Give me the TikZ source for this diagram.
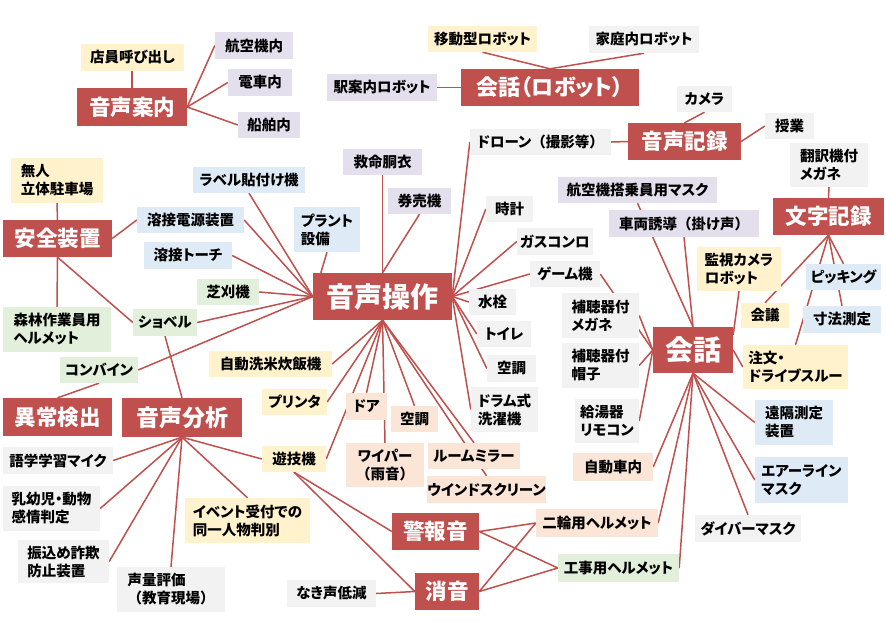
\documentclass[tikz,border=0pt]{standalone}
\usepackage{fontspec}
\setmainfont{Noto Sans CJK JP}[RawFeature=+palt]
\newfontfamily\jpfull{Noto Sans CJK JP}
\newcommand\fullp[1]{{\jpfull #1}}
\usetikzlibrary{backgrounds,calc}
\definecolor{hdr}{HTML}{C0504D}
\definecolor{yel}{HTML}{FFF2CC}
\definecolor{lav}{HTML}{E4DFEC}
\definecolor{gry}{HTML}{F2F2F2}
\definecolor{blu}{HTML}{DEEBF7}
\definecolor{grn}{HTML}{E2EFDA}
\definecolor{pch}{HTML}{FBE5D6}
\definecolor{lnc}{HTML}{C0504D}
\begin{document}
\begin{tikzpicture}[x=1pt,y=-1pt,
  sz/.style 2 args={minimum width=#1pt,minimum height=#2pt},
  lab/.style={inner sep=0pt, align=left, font=\bfseries\fontsize{14.5}{18}\selectfont},
  hd/.style={fill=hdr, text=white, inner sep=0pt, font=\bfseries\fontsize{21.5}{24}\selectfont},
  big/.style={hd, font=\bfseries\fontsize{28}{30}\selectfont},
  ln/.style={draw=lnc, line width=1.5pt}]
\useasboundingbox (0,0) rectangle (886,621);
% headers
\node[hd,sz={110}{38}] (an) at (132,107) {音声案内};
\node[hd,sz={178}{37},font=\bfseries\fontsize{22}{24}\selectfont] (kr) at (550,87.5) {会話（ロボット）};
\node[hd,sz={113}{37}] (rec) at (684.5,141.5) {音声記録};
\node[hd,sz={111}{37}] (moji) at (828.5,216.5) {文字記録};
\node[big,sz={139}{47}] (ope) at (382.5,296.5) {音声操作};
\node[big,sz={80}{46}] (kaiwa) at (693,350) {会話};
\node[hd,sz={109}{37}] (anz) at (57.5,238.5) {安全装置};
\node[hd,sz={109}{38}] (ijo) at (57.5,417) {異常検出};
\node[hd,sz={120}{39},font=\bfseries\fontsize{23}{25}\selectfont] (bun) at (182,417.5) {音声分析};
\node[hd,sz={87}{37}] (kei) at (435.5,531.5) {警報音};
\node[hd,sz={64}{37}] (sho) at (447,591.5) {消音};
% yellow
\node[lab,fill=yel,sz={103}{27}] (tenin) at (132.5,57.5) {店員呼び出し};
\node[lab,fill=yel,sz={92}{45}] (mujin) at (57,180.5) {無人\\立体駐車場};
\node[lab,fill=yel,sz={109}{26}] (idou) at (482.5,39) {移動型ロボット};
\node[lab,fill=yel,sz={84}{44}] (kanshi) at (739,269) {監視カメラ\\ロボット};
\node[lab,fill=yel,sz={48}{25}] (kaigi) at (765,315.5) {会議};
\node[lab,fill=yel,sz={105}{44}] (chumon) at (795.5,367) {注文・\\ドライブスルー};
\node[lab,fill=yel,sz={123}{26}] (senmai) at (270.5,364) {自動洗米炊飯機};
\node[lab,fill=yel,sz={65}{26}] (printer) at (294.5,402) {プリンタ};
\node[lab,fill=yel,sz={64}{26}] (yugi) at (294,459) {遊技機};
\node[lab,fill=yel,sz={125}{45}] (event) at (247.5,520.5) {イベント受付での\\同一人物判別};
% lavender
\node[lab,fill=lav,sz={78}{27}] (kokuki) at (254,45.5) {航空機内};
\node[lab,fill=lav,sz={64}{27}] (densha) at (260,82.5) {電車内};
\node[lab,fill=lav,sz={62}{26}] (senpaku) at (269,125) {船舶内};
\node[lab,fill=lav,sz={110}{27}] (eki) at (382,87.5) {駅案内ロボット};
\node[lab,fill=lav,sz={79}{26}] (kyumei) at (382.5,162) {救命胴衣};
\node[lab,fill=lav,sz={63}{26}] (kenbai) at (419.5,201) {券売機};
\node[lab,fill=lav,sz={159}{26}] (mask) at (637.5,190) {航空機搭乗員用マスク};
\node[lab,fill=lav,sz={150}{27}] (sharyo) at (684,223.5) {車両誘導\fullp{（}掛け声\fullp{）}};
% grey
\node[lab,fill=gry,sz={110}{27}] (katei) at (644,39.5) {家庭内ロボット};
\node[lab,fill=gry,sz={141}{26}] (drone) at (540.5,142) {ドローン\fullp{（}撮影等\fullp{）}};
\node[lab,fill=gry,sz={55}{26}] (camera) at (704.5,99) {カメラ};
\node[lab,fill=gry,sz={49}{26}] (jugyo) at (789.5,126) {授業};
\node[lab,fill=gry,sz={78}{44}] (honyaku) at (829,165) {翻訳機付\\メガネ};
\node[lab,fill=gry,sz={47}{26}] (tokei) at (509.5,209) {時計};
\node[lab,fill=gry,sz={76}{27}] (gas) at (555,241.5) {ガスコンロ};
\node[lab,fill=gry,sz={70}{26}] (game) at (565,274) {ゲーム機};
\node[lab,fill=gry,sz={47}{26}] (suisen) at (492.5,302) {水栓};
\node[lab,fill=gry,sz={54}{26}] (toilet) at (504,334) {トイレ};
\node[lab,fill=gry,sz={49}{27}] (kucho) at (511.5,368.5) {空調};
\node[lab,fill=gry,sz={67}{45}] (drum) at (504.5,409.5) {ドラム式\\洗濯機};
\node[lab,fill=gry,sz={77}{45}] (hmegane) at (600.5,315.5) {補聴器付\\メガネ};
\node[lab,fill=gry,sz={77}{45}] (hboushi) at (600.5,365.5) {補聴器付\\帽子};
\node[lab,fill=gry,sz={64}{44}] (kyuto) at (607,421) {給湯器\\リモコン};
\node[lab,fill=gry,sz={106}{27}] (diver) at (748,528.5) {ダイバーマスク};
\node[lab,fill=gry,sz={110}{27}] (gogaku) at (58,460.5) {語学学習マイク};
\node[lab,fill=gry,sz={97}{45}] (nyuyo) at (51.5,508.5) {乳幼児・動物\\感情判定};
\node[lab,fill=gry,sz={91}{43}] (furikome) at (63.5,561.5) {振込め詐欺\\防止装置};
\node[lab,fill=gry,sz={108}{45}] (seiryo) at (171,589.5) {声量評価\\\fullp{（}教育現場\fullp{）}};
\node[lab,fill=gry,sz={89}{27}] (nakigoe) at (331.5,593.5) {なき声低減};
% blue
\node[lab,fill=blu,sz={112}{26}] (label) at (249,180) {ラベル貼付け機};
\node[lab,fill=blu,sz={107}{26}] (yden) at (190.5,220) {溶接電源装置};
\node[lab,fill=blu,sz={88}{27}] (ytorch) at (188,255.5) {溶接トーチ};
\node[lab,fill=blu,sz={66}{45}] (plant) at (327,229.5) {プラント\\設備};
\node[lab,fill=blu,sz={75}{26}] (picking) at (843.5,277) {ピッキング};
\node[lab,fill=blu,sz={78}{27}] (sunpo) at (842,319.5) {寸法測定};
\node[lab,fill=blu,sz={78}{45}] (enkaku) at (794,422.5) {遠隔測定\\装置};
\node[lab,fill=blu,sz={93}{46}] (airline) at (801.5,480) {エアーライン\\マスク};
% green
\node[lab,fill=grn,sz={62}{26}] (shiba) at (228,292) {芝刈機};
\node[lab,fill=grn,sz={64}{27}] (shovel) at (165,322.5) {ショベル};
\node[lab,fill=grn,sz={108}{45}] (shinrin) at (57,329.5) {森林作業員用\\ヘルメット};
\node[lab,fill=grn,sz={78}{26}] (combine) at (99,370) {コンバイン};
\node[lab,fill=grn,sz={121}{28}] (koji) at (618.5,568) {工事用ヘルメット};
% peach
\node[lab,fill=pch,sz={41}{27}] (door) at (366.5,406.5) {ドア};
\node[lab,fill=pch,sz={47}{26}] (kucho2) at (414.5,419) {空調};
\node[lab,fill=pch,sz={78}{44},align=center] (wiper) at (385,465) {ワイパー\\\fullp{（}雨音\fullp{）}};
\node[lab,fill=pch,sz={92}{26}] (mirror) at (474,456) {ルームミラー};
\node[lab,fill=pch,sz={117}{27}] (window) at (486.5,489.5) {ウインドスクリーン};
\node[lab,fill=pch,sz={80}{28}] (jidosha) at (613,467) {自動車内};
\node[lab,fill=pch,sz={122}{28}] (nirin) at (597,523) {二輪用ヘルメット};
\begin{scope}[on background layer]
\fill[white] (0,0) rectangle (886,621);
% 音声案内
\draw[ln] (an.north) -- (an.north |- tenin.south);
\draw[ln] (an.east) -- (kokuki.west);
\draw[ln] (an.east) -- (densha.west);
\draw[ln] (an.east) -- (senpaku.west);
% 会話（ロボット）
\draw[ln] (idou.south) -- (kr.north);
\draw[ln] (katei.south) -- (kr.north);
\draw[ln] (eki.east) -- (kr.west);
% 音声記録
\draw[ln] (drone.east) -- (rec.west);
\draw[ln] (camera.south) -- (rec.north);
\draw[ln] (jugyo.west) -- (rec.east);
% 文字記録
\draw[ln] (honyaku.south) -- (moji.north);
\draw[ln] (moji.south) -- (kaigi.north);
\draw[ln] (moji.south) -- (picking.north);
\draw[ln] (moji.south) -- (sunpo.north);
\draw[ln] (moji.south) -- (chumon.north);
% 会話
\draw[ln] (mask.south) -- (kaiwa.north);
\draw[ln] (sharyo.south) -- (kaiwa.north);
\draw[ln] (kanshi.south) -- ([yshift=-8pt]kaiwa.north east);
\draw[ln] (chumon.west) -- (kaiwa.east);
\draw[ln] (game.east) -- (kaiwa.west);
\draw[ln] (hmegane.east) -- (kaiwa.west);
\draw[ln] (hboushi.east) -- (kaiwa.west);
\draw[ln] (kyuto.east) -- (kaiwa.west);
\draw[ln] (kaiwa.south) -- (jidosha.east);
\draw[ln] (kaiwa.south) -- (nirin.east);
\draw[ln] (kaiwa.south) -- (koji.east);
\draw[ln] (kaiwa.south) -- (diver.north);
\draw[ln] (kaiwa.south) -- (airline.west);
\draw[ln] (kaiwa.south) -- (enkaku.west);
% 音声操作
\draw[ln] (kyumei.south) -- (ope.north);
\draw[ln] (kenbai.south) -- (ope.north);
\draw[ln] (plant.south) -- ([xshift=8pt]ope.north west);
\draw[ln] (label.south) -- (ope.west);
\draw[ln] (yden.east) -- (ope.west);
\draw[ln] (ytorch.east) -- (ope.west);
\draw[ln] (shiba.east) -- (ope.west);
\draw[ln] (shovel.east) -- (ope.west);
\draw[ln] (combine.east) -- (ope.west);
\draw[ln] (drone.west) -- (ope.east);
\draw[ln] (tokei.west) -- (ope.east);
\draw[ln] (gas.west) -- (ope.east);
\draw[ln] (game.west) -- (ope.east);
\draw[ln] (suisen.west) -- (ope.east);
\draw[ln] (toilet.west) -- (ope.east);
\draw[ln] (kucho.west) -- (ope.east);
\draw[ln] (drum.west) -- (ope.east);
\draw[ln] (senmai.east) -- (ope.south);
\draw[ln] (printer.east) -- (ope.south);
\draw[ln] (yugi.east) -- (ope.south);
\draw[ln] (door.north) -- (ope.south);
\draw[ln] (wiper.north) -- (ope.south);
\draw[ln] (kucho2.north) -- (ope.south);
\draw[ln] (mirror.north) -- (ope.south);
\draw[ln] (window.north) -- (ope.south);
% 安全装置
\draw[ln] (mujin.south) -- (anz.north);
\draw[ln] (anz.south) -- (shinrin.north);
\draw[ln] (anz.south) -- (shovel.west);
\draw[ln] (anz.east) -- (yden.west);
% 異常検出
\draw[ln] (combine.south) -- (ijo.north);
% 音声分析
\draw[ln] (shovel.south) -- (bun.north);
\draw[ln] (bun.south) -- (gogaku.east);
\draw[ln] (bun.south) -- (nyuyo.east);
\draw[ln] (bun.south) -- (furikome.east);
\draw[ln] (bun.south) -- (seiryo.north);
\draw[ln] (bun.south) -- (event.north);
\draw[ln] (bun.south) -- (yugi.west);
% 警報音・消音
\draw[ln] (yugi.south) -- (kei.west);
\draw[ln] (yugi.south) -- (sho.west);
\draw[ln] (nakigoe.east) -- (sho.west);
\draw[ln] (kei.east) -- (nirin.west);
\draw[ln] (kei.east) -- (koji.west);
\draw[ln] (sho.east) -- (nirin.west);
\draw[ln] (sho.east) -- (koji.west);
\end{scope}
\end{tikzpicture}
\end{document}
